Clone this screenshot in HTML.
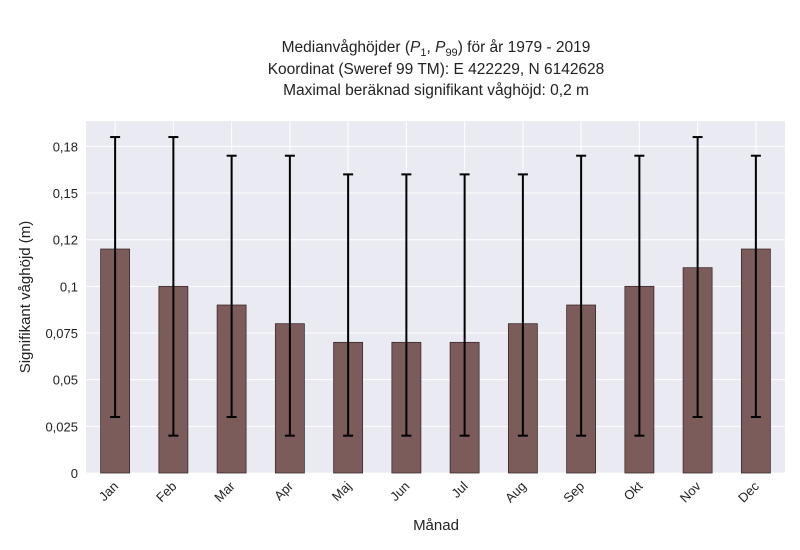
<!DOCTYPE html>
<html><head><meta charset="utf-8"><style>
body{margin:0;background:#fff;}
svg{display:block;font-family:"Liberation Sans",sans-serif;}
</style></head><body>
<svg id="chart" width="800" height="550" viewBox="0 0 800 550">
<g font-size="15.5" fill="#222" text-anchor="middle">
<text x="436" y="52">Medianvåghöjder (<tspan font-style="italic">P</tspan><tspan font-size="11" dy="4">1</tspan><tspan dy="-4">, </tspan><tspan font-style="italic">P</tspan><tspan font-size="11" dy="4">99</tspan><tspan dy="-4">) för år 1979 - 2019</tspan></text>
<text x="436" y="74">Koordinat (Sweref 99 TM): E 422229, N 6142628</text>
<text x="436" y="95">Maximal beräknad signifikant våghöjd: 0,2 m</text>
</g>
<rect x="86" y="121" width="699" height="352" fill="#eaeaf2"/>
<g id="grid"></g><g id="bars"></g><g id="axes"></g>
<text x="0" y="0" transform="translate(30,297) rotate(-90)" text-anchor="middle" font-size="15" fill="#222">Signifikant våghöjd (m)</text>
<text x="436" y="530" text-anchor="middle" font-size="15" fill="#222">Månad</text>
</svg>
<script>
const months=["Jan","Feb","Mar","Apr","Maj","Jun","Jul","Aug","Sep","Okt","Nov","Dec"];
const medians=[0.12,0.1,0.09,0.08,0.07,0.07,0.07,0.08,0.09,0.1,0.11,0.12];
const p1=[0.03,0.02,0.03,0.02,0.02,0.02,0.02,0.02,0.02,0.02,0.03,0.03];
const p99=[0.18,0.18,0.17,0.17,0.16,0.16,0.16,0.16,0.17,0.17,0.18,0.17];
const yTicks=[0,0.025,0.05,0.075,0.1,0.125,0.15,0.175];
const yTickLabels=["0","0,025","0,05","0,075","0,1","0,12","0,15","0,18"];
const NS="http://www.w3.org/2000/svg";
const x0=86,x1=785,yb=473,yt=121,yMax=0.1886;
const band=(x1-x0)/months.length;
const xs=i=>x0+band*(i+0.5);
const ys=v=>yb-(yb-yt)*v/yMax;
function mk(tag,attrs,parent){const e=document.createElementNS(NS,tag);for(const k in attrs)e.setAttribute(k,attrs[k]);parent.appendChild(e);return e;}
const grid=document.getElementById('grid'),bars=document.getElementById('bars'),axes=document.getElementById('axes');
yTicks.forEach((t,i)=>{
 const l=mk('line',{x1:x0,x2:x1,y1:ys(t),y2:ys(t),stroke:'#fff','stroke-width':1},grid);
 
 
 const tx=mk('text',{x:x0-8,y:ys(t)+5,'text-anchor':'end','font-size':13,fill:'#222'},axes);
 tx.textContent=yTickLabels[i];
 
 
});
months.forEach((m,i)=>{
 const g=mk('line',{x1:xs(i),x2:xs(i),y1:yt,y2:yb,stroke:'#fff','stroke-width':1},grid);
 
 
 const w=29;
 const r=mk('rect',{x:xs(i)-w/2,y:ys(medians[i]),width:w,height:yb-ys(medians[i]),fill:'#7c5b5b',stroke:'#3a2a2a','stroke-width':0.8},bars);
 
 
 const e=mk('line',{x1:xs(i),x2:xs(i),y1:ys(p99[i]),y2:ys(p1[i]),stroke:'#000','stroke-width':2},bars);
 
 
 [p99[i],p1[i]].forEach(v=>{
  const c=mk('line',{x1:xs(i)-5,x2:xs(i)+5,y1:ys(v),y2:ys(v),stroke:'#000','stroke-width':2},bars);
  
  
 });
 const t=mk('text',{x:0,y:0,transform:`translate(${xs(i)+4},${yb+14}) rotate(-45)`,'text-anchor':'end','font-size':13,fill:'#222'},axes);
 t.textContent=m;
 
 
});
</script>
</body></html>
